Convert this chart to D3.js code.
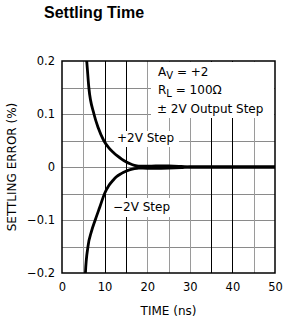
<!DOCTYPE html>
<html>
	<head>
		<meta charset="utf-8">
		<title>Settling Time</title>
		<script src="https://cdn.jsdelivr.net/npm/d3@7"></script>
    <style>
      body { margin: 0; background: #fff; }
      text { font-family: "DejaVu Sans", sans-serif; fill: #000; }
      .title { font-family: "Liberation Sans", Arial, sans-serif; font-weight: bold; font-size: 16px; }
      .axis text { font-size: 11.5px; }
      .axis path, .axis line { display: none; }
      .lbl { font-size: 12px; }
      .curve { fill: none; stroke: #000; stroke-width: 2.8px; stroke-linejoin: round; }
    </style>
	</head>
	<body>
		<svg class="chart"></svg>

		<script>
		// +2V step, time (ns) and settling error (%)
		var posTime  = [4.8, 5.8, 6.3, 7.5, 8.5, 9.8, 11, 12, 13, 14, 15, 16, 17, 18, 20, 22, 25, 28, 30, 35, 40, 45, 50];
		var posError = [0.26, 0.2, 0.15, 0.1, 0.074, 0.05, 0.036, 0.028, 0.021, 0.015, 0.01, 0.006, 0.003, 0.0015, 0.0015, 0.002, 0.002, 0.001, 0, 0, 0, 0, 0];
		// -2V step
		var negTime  = [5.3, 5.5, 6.1, 6.9, 7.8, 8.9, 10, 11, 12, 12.7, 14, 15, 16, 17, 18, 20, 22, 25, 28, 30, 35, 40, 45, 50];
		var negError = [-0.24, -0.2, -0.15, -0.122, -0.1, -0.075, -0.05, -0.035, -0.025, -0.019, -0.012, -0.008, -0.005, -0.003, -0.002, -0.0025, -0.0025, -0.002, -0.001, 0, 0, 0, 0, 0];

		var xTicks = [0, 10, 20, 30, 40, 50];
		var yTicks = [-0.2, -0.1, 0, 0.1, 0.2];
		var xGrid = [5, 10, 15, 20, 25, 30, 35, 40, 45];
		var yGrid = [-0.15, -0.1, -0.05, 0, 0.05, 0.1, 0.15];
		var darkX = [10, 15, 35, 40];

		var margin = {top: 61, right: 10, bottom: 54, left: 62},
				width = 285 -margin.left -margin.right,
				height = 327 -margin.top -margin.bottom;

		var x = d3.scaleLinear().domain([0, 50]).range([0, width]);
		var y = d3.scaleLinear().domain([-0.2, 0.2]).range([height, 0]);

		var svg = d3.select(".chart")
			.attr("width", 285)
			.attr("height", 327);

		svg.append("text")
			.attr("class", "title")
			.attr("x", 44)
			.attr("y", 18)
			.text("Settling Time");

		var chart = svg.append("g")
			.attr("transform", "translate("+ margin.left +","+ margin.top +")");

		chart.append("defs").append("clipPath").attr("id", "clip")
			.append("rect").attr("width", width).attr("height", height);

		// grid
		chart.selectAll(".hgrid")
			.data(yGrid)
			.enter().append("line")
			.attr("x1", 0).attr("x2", width)
			.attr("y1", function(d){ return Math.round(y(d)) + 0.5; })
			.attr("y2", function(d){ return Math.round(y(d)) + 0.5; })
			.attr("stroke", "#8a8a8a");
		chart.selectAll(".vgrid")
			.data(xGrid)
			.enter().append("line")
			.attr("y1", 0).attr("y2", height)
			.attr("x1", function(d){ return Math.round(x(d)) + 0.5; })
			.attr("x2", function(d){ return Math.round(x(d)) + 0.5; })
			.attr("stroke", function(d){ return darkX.indexOf(d) >= 0 ? "#000" : "#9a9a9a"; });

		// curves
		var line = d3.line()
			.x(function(d){ return x(d[0]); })
			.y(function(d){ return y(d[1]); })
			.curve(d3.curveMonotoneX);

		var g = chart.append("g").attr("clip-path", "url(#clip)");
		g.append("path")
			.attr("class", "curve")
			.attr("d", line(d3.zip(posTime, posError)));
		g.append("path")
			.attr("class", "curve")
			.attr("d", line(d3.zip(negTime, negError)));

		// frame
		chart.append("rect")
			.attr("width", width).attr("height", height)
			.attr("fill", "none").attr("stroke", "#000").attr("stroke-width", 1.5);

		// annotations with white backing
		function note(x0, y0, w, h) {
			chart.append("rect")
				.attr("x", x0 - margin.left).attr("y", y0 - margin.top)
				.attr("width", w).attr("height", h)
				.attr("fill", "#fff");
		}
		note(151, 62, 123, 56);
		note(114, 131, 65, 16);
		note(110, 198, 66, 19);

		var t = svg.append("text").attr("class", "lbl").attr("x", 158).attr("y", 76);
		t.append("tspan").text("A");
		t.append("tspan").attr("dy", 3).attr("font-size", "10px").text("V");
		t.append("tspan").attr("dy", -3).text(" = +2");

		var r = svg.append("text").attr("class", "lbl").attr("x", 158).attr("y", 94);
		r.append("tspan").text("R");
		r.append("tspan").attr("dy", 3).attr("font-size", "10px").text("L");
		r.append("tspan").attr("dy", -3).text(" = 100\u03A9");

		svg.append("text").attr("class", "lbl").attr("x", 157).attr("y", 113).text("\u00B1 2V Output Step");
		svg.append("text").attr("class", "lbl").attr("x", 117).attr("y", 142).text("+2V Step");
		svg.append("text").attr("class", "lbl").attr("x", 113).attr("y", 211).text("\u22122V Step");

		// axes
		chart.append("g")
			.attr("class", "x axis")
			.attr("transform", "translate(0,"+ height +")")
			.call(d3.axisBottom(x).tickValues(xTicks).tickSize(0).tickPadding(10));
		chart.append("g")
			.attr("class", "y axis")
			.call(d3.axisLeft(y).tickValues(yTicks).tickSize(0).tickPadding(7)
				.tickFormat(function(d){ return d === 0 ? "0" : d3.format(".1f")(d).replace("-", "\u2212"); }));

		svg.append("text")
			.attr("class", "lbl")
			.attr("text-anchor", "middle")
			.attr("x", margin.left + width / 2)
			.attr("y", 315)
			.text("TIME (ns)");
		svg.append("text")
			.attr("class", "lbl")
			.attr("text-anchor", "middle")
			.attr("transform", "translate(16,"+ (margin.top + height / 2) +") rotate(-90)")
			.text("SETTLING ERROR (%)");
		</script>

	</body>
</html>
